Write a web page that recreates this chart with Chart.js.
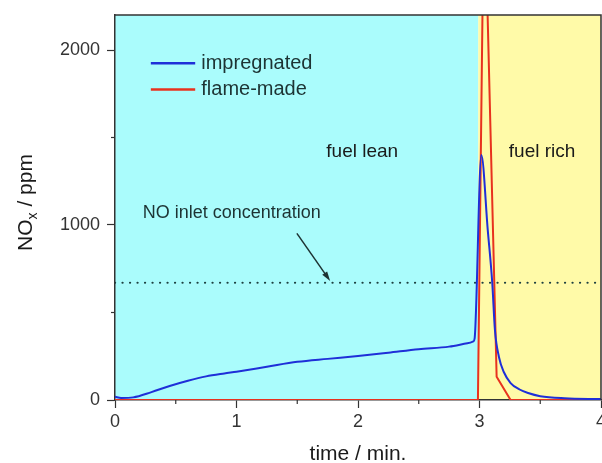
<!DOCTYPE html>
<html>
<head>
<meta charset="utf-8">
<script src="https://cdn.jsdelivr.net/npm/chart.js@4.4.0/dist/chart.umd.min.js"></script>
<style>
  html, body { margin: 0; padding: 0; background: #fff; }
</style>
</head>
<body>
<canvas id="noxChart" width="602" height="463"></canvas>
<script>
(function () {
	"use strict";

	// impregnated (blue)
	var blueTime = [0, 0.05, 0.15, 0.3, 0.45, 0.6, 0.75, 0.9, 1.0, 1.25, 1.5, 1.75, 2.0, 2.25, 2.5, 2.75, 2.9, 2.95, 2.96, 3.015, 3.068, 3.105, 3.127, 3.16, 3.2, 3.256, 3.33, 3.4, 3.5, 3.7, 4.0];
	var blueNOx = [19, 12, 15, 45, 80, 110, 135, 152, 162, 190, 218, 235, 251, 270, 290, 305, 324, 335, 352, 1400, 971, 669, 400, 246, 160, 97, 60, 40, 22, 10, 5];
	// flame-made (red)
	var redTime = [0, 2.987, 3.038, 3.141, 3.256, 4.0];
	var redNOx = [0, 0, 3000, 133, 0, 0];
	// NO inlet concentration
	var inletNOx = 670;
	var switchTime = 2.99;   // fuel lean -> fuel rich
	var xLabels = [0, 1, 2, 3, 4];
	var xMinor = [0.5, 1.5, 2.5, 3.5];
	var yLabels = [0, 1000, 2000];
	var yMinor = [500, 1500];

	var axisColor = "#333";
	var font = "'Liberation Sans', Arial, sans-serif";

	function pts(xs, ys) {
		return xs.map(function (x, i) { return { x: x, y: ys[i] }; });
	}
	function tickList(major, minor) {
		return major.concat(minor).sort(function (a, b) { return a - b; })
			.map(function (v) { return { value: v }; });
	}

	var decor = {
		id: "decor",
		beforeDraw: function (chart) {
			var ctx = chart.ctx, a = chart.chartArea;
			var xs = chart.scales.x.getPixelForValue(switchTime);
			ctx.save();
			ctx.fillStyle = "#aafcfc";
			ctx.fillRect(a.left, a.top, xs - a.left, a.bottom - a.top);
			ctx.fillStyle = "#fffaa8";
			ctx.fillRect(xs, a.top, a.right - xs, a.bottom - a.top);
			ctx.restore();
		},
		afterDraw: function (chart) {
			var ctx = chart.ctx, a = chart.chartArea;
			var sx = chart.scales.x, sy = chart.scales.y;
			ctx.save();

			// frame top + right
			ctx.strokeStyle = axisColor;
			ctx.lineWidth = 1.5;
			ctx.beginPath();
			ctx.moveTo(a.left, a.top);
			ctx.lineTo(a.right, a.top);
			ctx.lineTo(a.right, a.bottom);
			ctx.stroke();

			// minor ticks (shorter)
			ctx.lineWidth = 1.2;
			xMinor.forEach(function (v) {
				var p = sx.getPixelForValue(v);
				ctx.beginPath(); ctx.moveTo(p, a.bottom); ctx.lineTo(p, a.bottom + 4); ctx.stroke();
			});
			yMinor.forEach(function (v) {
				var p = sy.getPixelForValue(v);
				ctx.beginPath(); ctx.moveTo(a.left, p); ctx.lineTo(a.left - 4, p); ctx.stroke();
			});

			// region labels
			ctx.fillStyle = "#1a1a1a";
			ctx.textBaseline = "middle";
			ctx.textAlign = "center";
			ctx.font = "19px " + font;
			ctx.fillText("fuel lean", sx.getPixelForValue(2.035), sy.getPixelForValue(1417));
			ctx.fillText("fuel rich", sx.getPixelForValue(3.515), sy.getPixelForValue(1417));

			ctx.textAlign = "left";
			ctx.font = "18px " + font;
			ctx.fillStyle = "#1d3333";
			ctx.fillText("NO inlet concentration", sx.getPixelForValue(0.228), sy.getPixelForValue(1067));

			// arrow
			var x0 = sx.getPixelForValue(1.497), y0 = sy.getPixelForValue(952);
			var x1 = sx.getPixelForValue(1.771), y1 = sy.getPixelForValue(680);
			var ang = Math.atan2(y1 - y0, x1 - x0);
			ctx.strokeStyle = "#1d3333";
			ctx.lineWidth = 1.5;
			ctx.beginPath(); ctx.moveTo(x0, y0); ctx.lineTo(x1 - 6 * Math.cos(ang), y1 - 6 * Math.sin(ang)); ctx.stroke();
			ctx.beginPath();
			ctx.moveTo(x1, y1);
			ctx.lineTo(x1 - 10 * Math.cos(ang - 0.3), y1 - 10 * Math.sin(ang - 0.3));
			ctx.lineTo(x1 - 10 * Math.cos(ang + 0.3), y1 - 10 * Math.sin(ang + 0.3));
			ctx.closePath();
			ctx.fillStyle = "#1d3333";
			ctx.fill();

			// legend
			var items = [["impregnated", chart.data.datasets[0].borderColor, 1924], ["flame-made", chart.data.datasets[1].borderColor, 1775]];
			ctx.font = "20px " + font;
			items.forEach(function (it) {
				var y = sy.getPixelForValue(it[2]);
				ctx.strokeStyle = it[1];
				ctx.lineWidth = 2.5;
				ctx.beginPath();
				ctx.moveTo(sx.getPixelForValue(0.295), y);
				ctx.lineTo(sx.getPixelForValue(0.66), y);
				ctx.stroke();
				ctx.fillStyle = "#1d3333";
				ctx.fillText(it[0], sx.getPixelForValue(0.71), y);
			});

			// y title with subscript
			ctx.translate(25, (a.top + a.bottom) / 2 - 5);
			ctx.rotate(-Math.PI / 2);
			ctx.fillStyle = "#1a1a1a";
			var big = "21px " + font, small = "14px " + font;
			ctx.font = big;
			var w1 = ctx.measureText("NO").width, w3 = ctx.measureText(" / ppm").width;
			ctx.font = small;
			var w2 = ctx.measureText("x").width;
			var start = -(w1 + w2 + w3) / 2;
			ctx.textAlign = "left";
			ctx.textBaseline = "alphabetic";
			ctx.font = big;
			ctx.fillText("NO", start, 7);
			ctx.font = small;
			ctx.fillText("x", start + w1, 12);
			ctx.font = big;
			ctx.fillText(" / ppm", start + w1 + w2, 7);

			ctx.restore();
		}
	};

	var ctx = document.getElementById("noxChart");
	var myChart = new Chart(ctx, {
		type: "scatter",
		data: {
			datasets: [{
				label: "impregnated",
				data: pts(blueTime, blueNOx),
				showLine: true,
				cubicInterpolationMode: "monotone",
				borderColor: "#1f2fd8",
				borderWidth: 2,
				pointRadius: 0,
				order: 0
			}, {
				label: "flame-made",
				data: pts(redTime, redNOx),
				showLine: true,
				borderColor: "#e8321e",
				borderWidth: 2,
				pointRadius: 0,
				order: 1
			}, {
				label: "NO inlet concentration",
				data: pts([0, 4], [inletNOx, inletNOx]),
				showLine: true,
				borderColor: "#1d4040",
				borderWidth: 2.2,
				borderDash: [0.1, 7.4],
				borderCapStyle: "round",
				pointRadius: 0,
				order: 2
			}]
		},
		plugins: [decor],
		options: {
			responsive: false,
			animation: false,
			events: [],
			layout: { padding: { top: 15, right: 1, left: 0, bottom: 0 } },
			plugins: { legend: { display: false }, tooltip: { enabled: false } },
			scales: {
				x: {
					type: "linear",
					min: 0,
					max: 4,
					afterBuildTicks: function (s) { s.ticks = tickList(xLabels, xMinor); },
					afterFit: function (s) { s.height = 63; s.paddingLeft = 0; s.paddingRight = 0; },
					border: { display: true, color: axisColor, width: 1.5 },
					grid: {
						drawOnChartArea: false,
						tickLength: 8,
						tickWidth: 1.2,
						tickColor: function (c) { return xLabels.indexOf(c.tick.value) >= 0 ? axisColor : "rgba(0,0,0,0)"; }
					},
					ticks: {
						autoSkip: false,
						maxRotation: 0,
						padding: 3,
						color: "#333",
						font: { family: font, size: 18 },
						callback: function (v) { return xLabels.indexOf(v) >= 0 ? String(v) : ""; }
					},
					title: {
						display: true,
						text: "time / min.",
						color: "#1a1a1a",
						padding: { top: 0, bottom: 0 },
						font: { family: font, size: 21, lineHeight: 0.8 }
					}
				},
				y: {
					min: 0,
					max: 2200,
					afterBuildTicks: function (s) { s.ticks = tickList(yLabels, yMinor); },
					afterFit: function (s) { s.width = 115; s.paddingTop = 0; s.paddingBottom = 0; },
					border: { display: true, color: axisColor, width: 1.5 },
					grid: {
						drawOnChartArea: false,
						tickLength: 8,
						tickWidth: 1.2,
						tickColor: function (c) { return yLabels.indexOf(c.tick.value) >= 0 ? axisColor : "rgba(0,0,0,0)"; }
					},
					ticks: {
						autoSkip: false,
						padding: 7,
						color: "#333",
						font: { family: font, size: 18 },
						callback: function (v) { return yLabels.indexOf(v) >= 0 ? String(v) : ""; }
					}
				}
			}
		}
	});
})();
</script>
</body>
</html>
